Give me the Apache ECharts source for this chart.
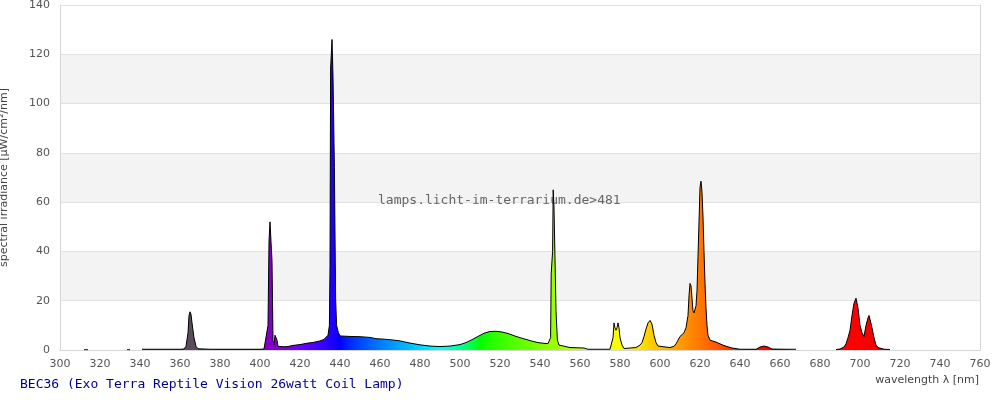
<!DOCTYPE html>
<html>
<head>
<meta charset="utf-8">
<script src="https://cdn.jsdelivr.net/npm/echarts@6/dist/echarts.min.js"></script>
<style>html,body{margin:0;padding:0;background:#fff;}#c{width:1000px;height:400px;}</style>
</head>
<body>
<div id="c"></div>
<script>
// ---- data ----
const wavelengths = [
 312,313,314,315,
 333.5,334,335,336,
 341,345,350,355,360,362,363,364,364.5,365,365.5,366,367,368,369,370,375,380,385,390,395,400,402,
 403,404,404.5,405,405.5,406,406.5,407,407.5,408,408.5,409,410,412,414,416,418,420,422,424,426,428,430,432,433,434,434.7,435,435.3,436,436.5,437.2,437.8,438.3,439.2,440,
 445,450,455,458,462,466,470,475,480,485,490,495,500,503,506,509,512,515,518,521,524,527,530,533,536,539,542,544,
 545,545.3,545.6,546.3,546.6,547,547.7,548,548.7,549.5,550,555,562,564,570,575,
 576,576.5,577,577.5,578,578.5,579,579.5,580,581,582,583,585,588,
 590,591,592,593,594,595,596,597,598,599,600,605,607,608,609,610,611,612,613,614,614.5,615,615.5,616,616.5,617,617.5,618,618.5,619,619.5,620,620.5,621,621.5,622,622.5,623,623.5,624,625,626,628,630,632,634,636,637,640,648,
 650,651,652,653,654,655,656,657,662,668,669,
 688,690,692,693,694,695,696,697,698,699,700,701,702,703,704,704.5,705,706,707,708,709,710,712,715
];
const irradiance = [
 0.1,0.8,0.1,null,
 0.1,0.3,0.1,null,
 0.3,0.3,0.3,0.3,0.3,0.4,1.5,7,14,15.5,14.5,11,5,1.5,0.5,0.3,0.3,0.3,0.3,0.3,0.3,0.3,0.4,
 0.6,10,44,52,44,36,4,2,6,6.5,4,1.5,1.2,1.3,1.4,1.8,2.0,2.2,2.5,2.8,3.0,3.3,3.7,4.3,5,6,10,34,114,126,111,74,21,10,7,5.7,
 5.5,5.4,5.1,4.6,4.4,4.1,3.7,2.8,2.1,1.6,1.4,1.6,2.2,3.0,4.2,5.5,6.8,7.5,7.6,7.3,6.7,5.8,5.0,4.3,3.6,3.0,2.7,2.6,
 2.8,5,31,40,65,58,58,16,4,2,1.2,1.0,0.8,0.3,0.3,0.3,
 1,5,11,9,8,9,11,9,5,2,0.6,0.4,0.8,1,
 2,3,5.5,8.5,11,12,10.5,6,3,1.6,1,1,1.5,2.5,4,5.5,6,7,9,14,22,27,26,21,16,15,15,18,24,38,52,66,68.5,64,54,40,27,17,10,6,4,3.6,3.2,2.5,1.8,1.3,0.8,0.4,0.3,0.3,
 1.2,1.6,1.6,1.4,1.2,0.9,0.4,0.3,0.3,0.3,null,
 0.2,0.4,1.2,2.5,5,8,14,19,21,17,10,7,5.5,10,13,14,12.5,9,5,2,1,0.6,0.3,0.2
];
const xTicks = {min: 300, max: 760, interval: 20};
const yTicks = {min: 0, max: 140, interval: 20};
const titleText = 'BEC36 (Exo Terra Reptile Vision 26watt Coil Lamp)';
const watermark = 'lamps.licht-im-terrarium.de>481';
const xName = 'wavelength λ [nm]';
const yName = 'spectral irradiance [µW/cm²/nm]';

// ---- style helpers ----
function wlColor(w) {
  if (w < 380) return 'rgb(90,74,94)';
  let r = 0, g = 0, b = 0;
  if (w < 440) { r = -(w - 440) / 60; b = 1; }
  else if (w < 490) { g = (w - 440) / 50; b = 1; }
  else if (w < 510) { g = 1; b = -(w - 510) / 20; }
  else if (w < 580) { r = (w - 510) / 70; g = 1; }
  else if (w < 645) { r = 1; g = -(w - 645) / 65; }
  else { r = 1; }
  let f = 1;
  if (w < 420) f = 0.3 + 0.7 * (w - 380) / 40;
  else if (w > 700) f = 0.3 + 0.7 * (780 - w) / 80;
  const c = v => Math.round(255 * Math.pow(v * f, 0.8));
  return 'rgb(' + c(r) + ',' + c(g) + ',' + c(b) + ')';
}
const gridL = 60, gridR = 20, gridT = 5, gridB = 50;
const W = 1000;
const stops = [];
for (let w = xTicks.min; w <= xTicks.max; w += 2) {
  stops.push({offset: (w - xTicks.min) / (xTicks.max - xTicks.min), color: wlColor(w)});
}
const fill = new echarts.graphic.LinearGradient(gridL, 0, W - gridR, 0, stops, true);

const seriesData = wavelengths.map((w, i) => [w, irradiance[i] === null ? '-' : irradiance[i]]);

const chart = echarts.init(document.getElementById('c'), null, {renderer: 'canvas'});
const labelFont = {color: '#555', fontSize: 11, fontFamily: 'DejaVu Sans'};
chart.setOption({
  animation: false,
  backgroundColor: '#fff',
  grid: {left: gridL, right: gridR, top: gridT, bottom: gridB, containLabel: false, outerBoundsMode: 'none'},
  xAxis: {
    type: 'value', min: xTicks.min, max: xTicks.max, interval: xTicks.interval,
    axisLine: {show: true, lineStyle: {color: '#d6d6d6'}},
    axisTick: {show: false},
    splitLine: {show: false},
    axisLabel: Object.assign({margin: 9}, labelFont)
  },
  yAxis: [{
    type: 'value', min: yTicks.min, max: yTicks.max, interval: yTicks.interval,
    axisLine: {show: true, lineStyle: {color: '#d6d6d6'}},
    axisTick: {show: false},
    splitLine: {show: true, showMinLine: false, lineStyle: {color: '#e2e2e2'}},
    splitArea: {show: true, areaStyle: {color: ['#ffffff', '#f3f3f3']}},
    axisLabel: Object.assign({margin: 10}, labelFont),
    name: yName, nameLocation: 'middle', nameGap: 50, nameRotate: 90,
    nameTextStyle: {color: '#444', fontSize: 11, fontFamily: 'DejaVu Sans'}
  }, {
    type: 'value', min: yTicks.min, max: yTicks.max, position: 'right',
    axisLine: {show: true, lineStyle: {color: '#d6d6d6'}},
    axisTick: {show: false}, axisLabel: {show: false}, splitLine: {show: false}
  }],
  graphic: [
    {type: 'text', left: 20, top: 378, z: 10,
     style: {text: titleText, fill: '#000090', font: '13px "DejaVu Sans Mono"'}},
    {type: 'text', right: 21, top: 375, z: 10,
     style: {text: xName, fill: '#444', font: '11px "DejaVu Sans"'}},
    {type: 'text', left: 378, top: 194, z: 3,
     style: {text: watermark, fill: '#666', font: '13px "DejaVu Sans Mono"'}}
  ],
  series: [{
    type: 'line',
    data: seriesData,
    showSymbol: false,
    symbol: 'none',
    connectNulls: false,
    z: 5,
    lineStyle: {color: '#000', width: 1},
    areaStyle: {color: fill, opacity: 1},
    silent: true
  }]
});
</script>
</body>
</html>
